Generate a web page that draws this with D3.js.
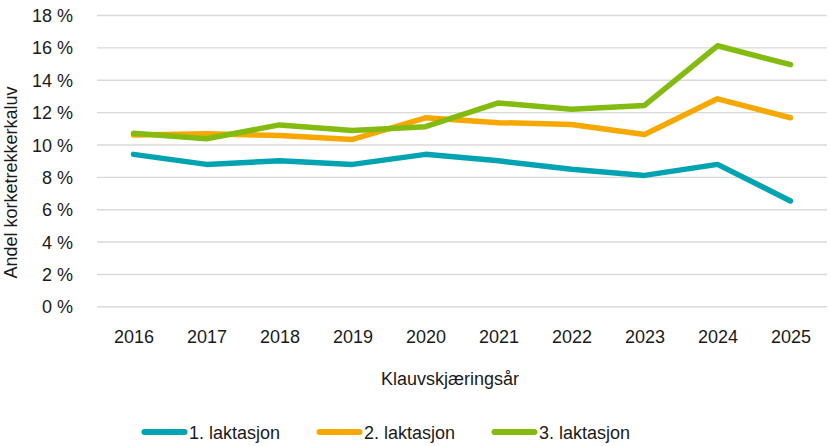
<!DOCTYPE html>
<html>
<head>
<meta charset="utf-8">
<script src="https://cdn.jsdelivr.net/npm/d3@7/dist/d3.min.js"></script>
<style>
  body { margin: 0; background: #fff; }
  svg text { font-family: "Liberation Sans", Arial, Helvetica, sans-serif; fill: #1a1a1a; }
</style>
</head>
<body>
<svg id="chart" width="830" height="446"></svg>
<script>
const years = ["2016","2017","2018","2019","2020","2021","2022","2023","2024","2025"];
const lakt1 = [9.42, 8.80, 9.02, 8.80, 9.42, 9.02, 8.50, 8.12, 8.80, 6.54];
const lakt2 = [10.62, 10.70, 10.58, 10.34, 11.68, 11.38, 11.27, 10.65, 12.85, 11.68];
const lakt3 = [10.72, 10.38, 11.24, 10.90, 11.13, 12.60, 12.20, 12.44, 16.13, 14.96];
const seriesNames = ["1. laktasjon", "2. laktasjon", "3. laktasjon"];
const seriesColors = ["#00A3B1", "#F6A800", "#84BB10"];
const yTicks = [0, 2, 4, 6, 8, 10, 12, 14, 16, 18];

const series = [lakt1, lakt2, lakt3].map((v, i) => ({ name: seriesNames[i], color: seriesColors[i], values: v }));

const svg = d3.select("#chart");
const plotLeft = 97, plotRight = 827, plotTop = 15.5, plotBottom = 306.8;

const x = d3.scalePoint().domain(years).range([plotLeft, plotRight]).padding(0.5);
const y = d3.scaleLinear().domain([0, 18]).range([plotBottom, plotTop]);

// gridlines
svg.append("g").selectAll("line").data(yTicks).join("line")
  .attr("x1", plotLeft).attr("x2", plotRight)
  .attr("y1", d => y(d)).attr("y2", d => y(d))
  .attr("stroke", "#d9d9d9").attr("stroke-width", 1.4);

// y axis labels
const yAxis = d3.axisLeft(y).tickValues(yTicks).tickSize(0).tickPadding(0)
  .tickFormat(d => d + " %");
const gy = svg.append("g").attr("transform", `translate(73,0)`).call(yAxis);
gy.select(".domain").remove();
gy.selectAll("text").attr("font-size", 18).attr("fill", "#1a1a1a")
  .style("font-family", '"Liberation Sans", Arial, sans-serif').attr("dy", "0.34em");

// x axis labels
const xAxis = d3.axisBottom(x).tickSize(0).tickPadding(0);
const gx = svg.append("g").attr("transform", `translate(0,330)`).call(xAxis);
gx.select(".domain").remove();
gx.selectAll("text").attr("font-size", 18).attr("fill", "#1a1a1a")
  .style("font-family", '"Liberation Sans", Arial, sans-serif').attr("dy", "0.71em");

// lines
const line = d3.line().x((d, i) => x(years[i])).y(d => y(d));
svg.append("g").selectAll("path").data(series).join("path")
  .attr("d", d => line(d.values))
  .attr("fill", "none").attr("stroke", d => d.color)
  .attr("stroke-width", 5.5).attr("stroke-linejoin", "round").attr("stroke-linecap", "round");

// axis titles
svg.append("text").attr("x", 450).attr("y", 385).attr("text-anchor", "middle")
  .attr("font-size", 18).text("Klauvskjæringsår");
svg.append("text").attr("transform", "translate(17,182.5) rotate(-90)")
  .attr("text-anchor", "middle").attr("font-size", 18).text("Andel korketrekkerkaluv");

// legend
const legX = [143, 318, 493];
const leg = svg.append("g").selectAll("g").data(series).join("g")
  .attr("transform", (d, i) => `translate(${legX[i]},432)`);
leg.append("line").attr("x1", 1.5).attr("x2", 41.5).attr("y1", 0).attr("y2", 0)
  .attr("stroke", d => d.color).attr("stroke-width", 6).attr("stroke-linecap", "round");
leg.append("text").attr("x", 46).attr("y", 6.5).attr("font-size", 18).text(d => d.name);
</script>
</body>
</html>
